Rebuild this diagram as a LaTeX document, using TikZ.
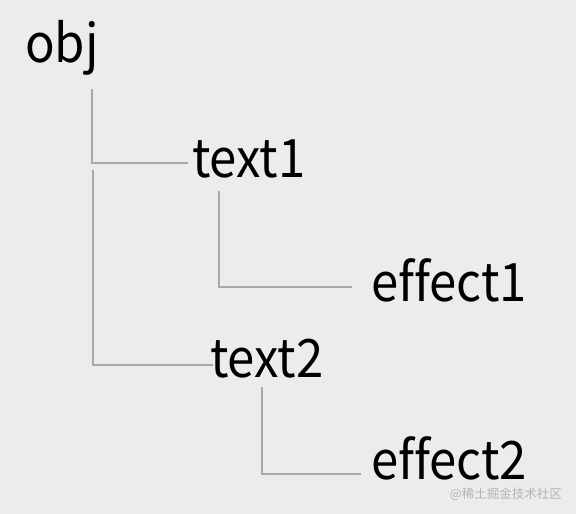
\documentclass[tikz,border=0pt]{standalone}
\usepackage{fontspec}
\setmainfont{Noto Sans CJK SC}[FakeStretch=0.925, Ligatures=NoCommon]
\newfontfamily\cjk{Noto Sans CJK SC}
\usetikzlibrary{calc}
\definecolor{bg}{HTML}{EBECEE}
\definecolor{linec}{HTML}{A9A9AB}
\definecolor{wmc}{HTML}{B4B4B6}
\tikzset{
  lbl/.style={anchor=base west, inner sep=0pt, font=\fontsize{53}{60}\selectfont, text=black},
  conn/.style={draw=linec, line width=1.6pt},
  wm/.style={anchor=base east, inner sep=0pt, font=\cjk\fontsize{12.5}{14}\selectfont, text=wmc}
}
\begin{document}
\begin{tikzpicture}[x=1pt,y=-1pt]
\fill[bg] (0,0) rectangle (576,514);
\useasboundingbox (0,0) rectangle (576,514);
\node[lbl] (obj) at (25,62) {obj};
\node[lbl] (text1) at (192,177) {text1};
\node[lbl] (effect1) at (371,301) {effect1};
\node[lbl] (text2) at (210,377) {text2};
\node[lbl] (effect2) at (371,479) {effect2};
\node[wm] (wm) at (562,498) {@稀土掘金技术社区};
\coordinate (c1) at ($(obj.base west)+(67,27)$);
\coordinate (c2) at ($(obj.base west)+(68,108)$);
\coordinate (c3) at ($(text1.base west)+(27,14)$);
\coordinate (c4) at ($(text2.base west)+(52,10)$);
\draw[conn] (c1) |- ($(text1.base west)+(-4,-14)$);
\draw[conn] (c2) |- ($(text2.base west)+(3,-12)$);
\draw[conn] (c3) |- ($(effect1.base west)+(-19,-14)$);
\draw[conn] (c4) |- ($(effect2.base west)+(-10,-5)$);
\end{tikzpicture}
\end{document}
